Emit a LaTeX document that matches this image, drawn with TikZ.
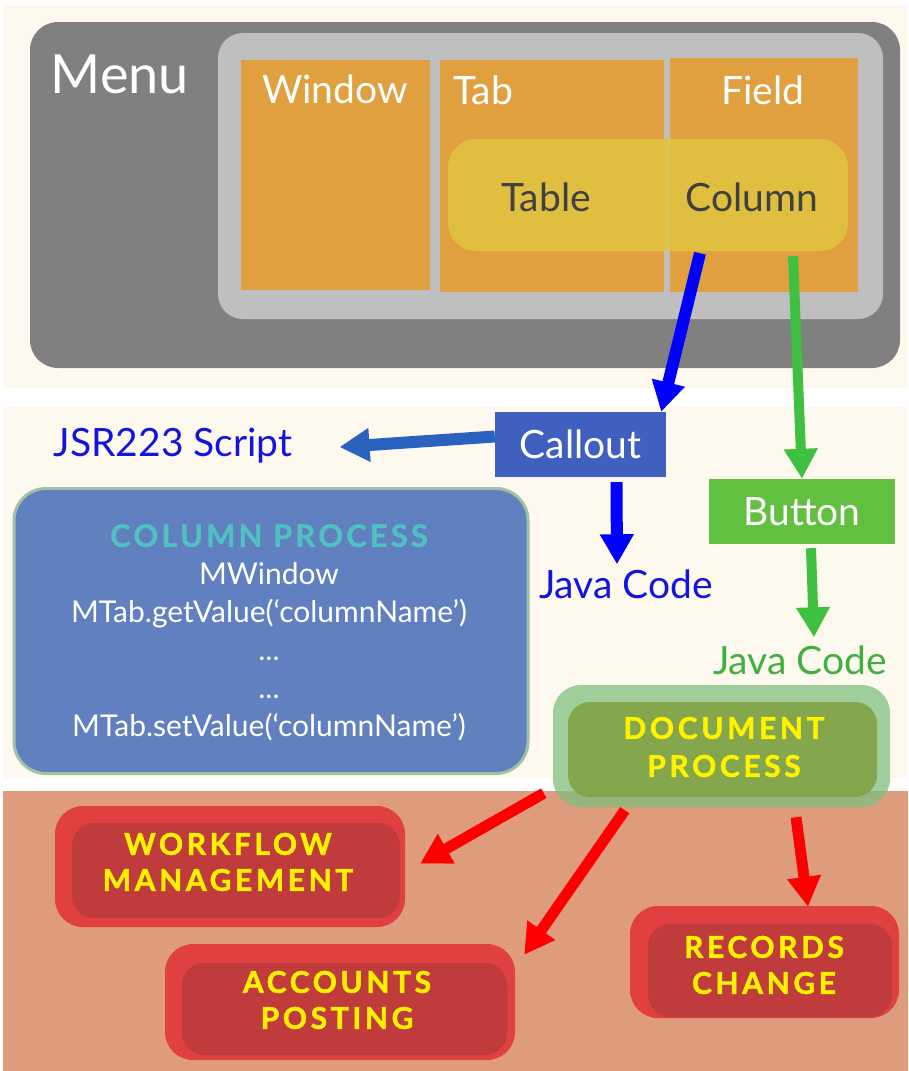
\documentclass[tikz,border=0pt]{standalone}
\usepackage{fontspec}
\setmainfont{Lato}
\usetikzlibrary{arrows.meta,calc}
\definecolor{cream}{HTML}{FEF9EE}
\definecolor{salmon}{HTML}{DF9C7C}
\definecolor{menugray}{HTML}{808080}
\definecolor{lightgray2}{HTML}{BFBFBF}
\definecolor{cellorange}{HTML}{E0A040}
\definecolor{tableyellow}{HTML}{E0C440}
\definecolor{calloutblue}{HTML}{4060C0}
\definecolor{jsrarrow}{HTML}{2A62C0}
\definecolor{jsrtext}{HTML}{1414E0}
\definecolor{buttongreen}{HTML}{62C040}
\definecolor{arrowgreen}{HTML}{40C040}
\definecolor{javagreen}{HTML}{40B040}
\definecolor{colproc}{HTML}{6080C0}
\definecolor{colborder}{HTML}{A0C0A8}
\definecolor{colteal}{HTML}{50C0C0}
\definecolor{docouter}{HTML}{80C080}
\definecolor{docinner}{HTML}{80A040}
\definecolor{redouter}{HTML}{E04040}
\definecolor{redinner}{HTML}{C03C3C}
\newcommand{\fsz}[1]{\fontsize{#1}{#1}\selectfont}
\tikzset{
  cell/.style={rectangle, inner sep=0pt, fill=cellorange},
  rbox/.style={rectangle, inner sep=0pt},
  lbl/.style={inner sep=0pt, anchor=center},
  bigarrow/.style={line width=11pt, -{Triangle[width=32pt,length=30pt]}},
  redarrow/.style={bigarrow, draw=red},
  boldcap/.style={font=\fsz{30}\bfseries\addfontfeature{LetterSpace=12,FakeBold=1.5}, text=yellow, align=center}
}
\begin{document}
\begin{tikzpicture}[x=1pt,y=-1pt]
\useasboundingbox (0,0) rectangle (908,1071);
\fill[white] (0,0) rectangle (908,1071);
\fill[cream] (3,5) rectangle (908,388);
\fill[cream] (3,407) rectangle (908,778);
\fill[salmon] (3,791) rectangle (908,1071);

% menu
\node[rbox, fill=menugray, rounded corners=28pt, minimum width=870pt, minimum height=346pt] (menu) at (465,195) {};
\node[rbox, fill=lightgray2, rounded corners=25pt, minimum width=665pt, minimum height=286pt] (inner) at (550.5,176) {};
\node[cell, minimum width=189pt, minimum height=230pt] (window) at (335.5,175) {};
\node[cell, minimum width=224pt, minimum height=232pt] (tab) at (552,176) {};
\node[cell, minimum width=188pt, minimum height=234pt] (field) at (764,175) {};
\node[rbox, fill=tableyellow, fill opacity=0.85, rounded corners=28pt, minimum width=400pt, minimum height=112pt] (overlay) at (648,195) {};
\node[lbl, text=white, font=\fsz{54}] (menulbl) at (120,74) {Menu};
\node[lbl, text=white, font=\fsz{39}] (windowlbl) at (335,89) {Window};
\node[lbl, text=white, font=\fsz{39}] (tablbl) at (483,90) {Tab};
\node[lbl, text=white, font=\fsz{39}] (fieldlbl) at (763,90) {Field};
\node[lbl, text=black!75, font=\fsz{39}] (tablelbl) at (546,197) {Table};
\node[lbl, text=black!75, font=\fsz{39}] (columnlbl) at (752,197) {Column};

% middle
\node[rbox, fill=calloutblue, minimum width=171pt, minimum height=65pt, text=white, font=\fsz{39}] (callout) at (580.5,444.5) {Callout};
\node[rbox, fill=buttongreen, minimum width=186pt, minimum height=65pt, text=white, font=\fsz{39}] (button) at (802,511.5) {Button};
\node[lbl, text=jsrtext, font=\fsz{39}] (jsr) at (173,446) {JSR223 Script};
\node[lbl, text=jsrtext, font=\fsz{39}] (javab) at (626,584) {Java Code};
\node[lbl, text=javagreen, font=\fsz{39}] (javag) at (800,660) {Java Code};

\node[rbox, fill=colproc, draw=colborder, line width=3pt, rounded corners=32pt, minimum width=514pt, minimum height=285pt] (colproc) at (271,631) {};
\node[lbl, text=white, align=center, font=\fsz{30}, anchor=north] (coltext) at (269,524)
  {{\fsz{31}\bfseries\addfontfeature{LetterSpace=10,FakeBold=1}\color{colteal}COLUMN PROCESS}\\[8pt]
   MWindow\\[8pt]
   MTab.getValue(‘columnName’)\\[8pt]
   ...\\[8pt]
   ...\\[8pt]
   MTab.setValue(‘columnName’)};

% document process
\node[rbox, fill=docouter, fill opacity=0.75, rounded corners=28pt, minimum width=337pt, minimum height=122pt] (docout) at (721.5,746) {};
\node[rbox, fill=docinner, fill opacity=0.85, rounded corners=22pt, minimum width=309pt, minimum height=95pt] (docin) at (722.5,749.5) {};
\node[boldcap] (doctext) at (724,747) {DOCUMENT\\[8pt]PROCESS};

% red boxes
\node[rbox, fill=redouter, rounded corners=28pt, minimum width=350pt, minimum height=121pt] (wfout) at (230,866.5) {};
\node[rbox, fill=redinner, rounded corners=22pt, minimum width=328pt, minimum height=95pt] (wfin) at (236,870.5) {};
\node[boldcap] (wftext) at (228,862) {WORKFLOW\\[6pt]MANAGEMENT};

\node[rbox, fill=redouter, rounded corners=28pt, minimum width=350pt, minimum height=116pt] (acout) at (340,1002) {};
\node[rbox, fill=redinner, rounded corners=22pt, minimum width=325pt, minimum height=92pt] (acin) at (344.5,1009) {};
\node[boldcap] (actext) at (337,1000) {ACCOUNTS\\[6pt]POSTING};

\node[rbox, fill=redouter, rounded corners=28pt, minimum width=269pt, minimum height=112pt] (rcout) at (764.5,962) {};
\node[rbox, fill=redinner, rounded corners=22pt, minimum width=244pt, minimum height=93pt] (rcin) at (770,970.5) {};
\node[boldcap] (rctext) at (764,965) {RECORDS\\[6pt]CHANGE};

% arrows
\draw[bigarrow, draw=blue, line width=12pt] ($(overlay.south)+(52,2)$) -- ($(callout.north east)+(-5,0)$);
\draw[bigarrow, draw=arrowgreen, line width=10pt] ($(overlay.south)+(145,5)$) -- (button.north);
\draw[bigarrow, draw=jsrarrow, line width=12pt] ($(callout.west)+(0,-8)$) -- ($(jsr.east)+(47,1)$);
\draw[bigarrow, draw=blue, line width=12pt] ($(callout.south)+(36,5)$) -- ($(javab.north)+(-9,-5)$);
\draw[bigarrow, draw=arrowgreen, line width=10pt] ($(button.south)+(9,4)$) -- ($(javag.north)+(14,-8)$);
\draw[redarrow] ($(docout.south west)+(-9,-14)$) -- ($(wfout.east)+(15,-3)$);
\draw[redarrow] ($(docout.south west)+(72,3)$) -- ($(acout.north east)+(9,11)$);
\draw[redarrow] ($(docout.south)+(74.5,10)$) -- ($(rcout.north)+(43.5,1)$);
\end{tikzpicture}
\end{document}
